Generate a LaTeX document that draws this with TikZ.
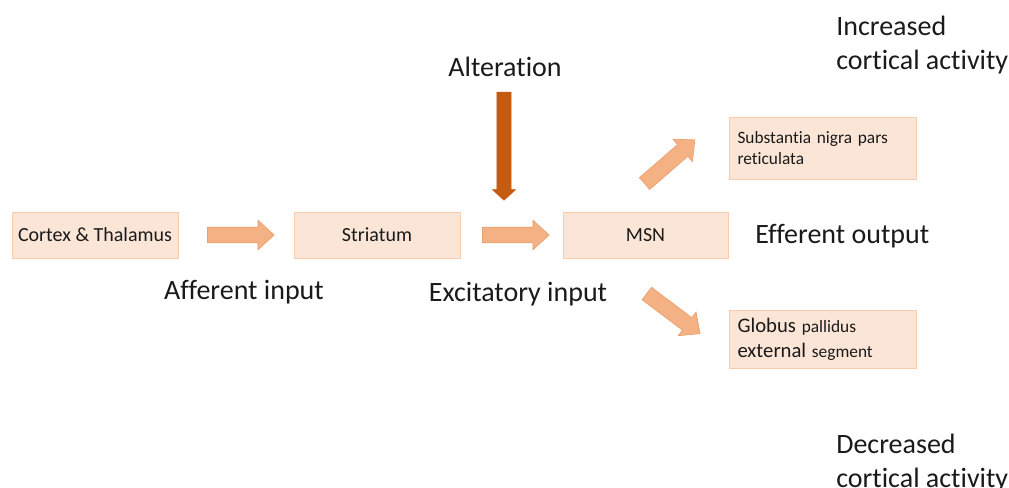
\documentclass[tikz,border=0pt]{standalone}
\usepackage{fontspec}
\setmainfont{Carlito}[Ligatures=NoCommon]
\usepackage{tikz}
\usetikzlibrary{shapes.arrows}
\definecolor{boxfill}{HTML}{FBE5D6}
\definecolor{boxline}{HTML}{F8CBAD}
\definecolor{arrowfill}{HTML}{F4B183}
\definecolor{arrowline}{HTML}{E9A06F}
\definecolor{altcol}{HTML}{C55A11}
\definecolor{txt}{HTML}{1A1A1A}
\begin{document}
\begin{tikzpicture}[x=0.75pt,y=0.75pt,yscale=-1,xscale=1,
  box/.style={draw=boxline,fill=boxfill,line width=0.6pt,minimum height=34.5pt,
    inner sep=0pt,text=txt,font=\fontsize{15}{18}\selectfont},
  sidebox/.style={box,align=left,text width=128.25pt,inner xsep=6pt,
    font=\fontsize{13}{15.75}\selectfont},
  fat/.style={single arrow,draw=arrowline,fill=arrowfill,line width=0.5pt,
    minimum height=50pt,inner xsep=0pt,inner ysep=5.6pt,
    single arrow head extend=5.25pt,single arrow tip angle=85},
  biglabel/.style={text=txt,inner sep=0pt,font=\fontsize{21}{25.5}\selectfont},
]
\useasboundingbox (0,0) rectangle (1009,488);

% boxes
\node[box,minimum width=124.5pt] (ct) at (95,235) {Cortex \& Thalamus};
\node[box,minimum width=124.5pt] (str) at (377,235) {Striatum};
\node[box,minimum width=123.75pt] (msn) at (645.5,235.5) {MSN};
\node[sidebox,minimum height=46.5pt] (snr) at (823,148) {Substantia nigra pars\\reticulata};
\node[sidebox,minimum height=43.5pt,font=\fontsize{13}{18.75}\selectfont] (gpe) at (823,339)
  {{\fontsize{15.5}{18.75}\selectfont Globus} pallidus\\{\fontsize{15.5}{18.75}\selectfont external} segment};

% block arrows
\node[fat] (a1) at (236.5,235) {};
\node[fat] (a2) at (511.5,235) {};
\node[fat,rotate=41] (a3) at (666.5,164.5) {};
\node[fat,rotate=-37] (a4) at (670,311) {};

% alteration
\node[biglabel] (alt) at (505,67) {Alteration};
\node[single arrow,fill=altcol,draw=altcol,rotate=-90,minimum height=81pt,
  inner xsep=0pt,inner ysep=5.1pt,single arrow head extend=3.4pt,single arrow tip angle=95] (altar) at (504,143) {};

% labels
\node[biglabel] (aff) at (244,292) {Afferent input};
\node[biglabel] (exc) at (518,294) {Excitatory input};
\node[biglabel,anchor=west] (eff) at (755,236) {Efferent output};
\node[biglabel,anchor=north west,align=left] (inc) at (836,16) {Increased\\cortical activity};
\node[biglabel,anchor=north west,align=left] (dec) at (836,434) {Decreased\\cortical activity};

\end{tikzpicture}
\end{document}
